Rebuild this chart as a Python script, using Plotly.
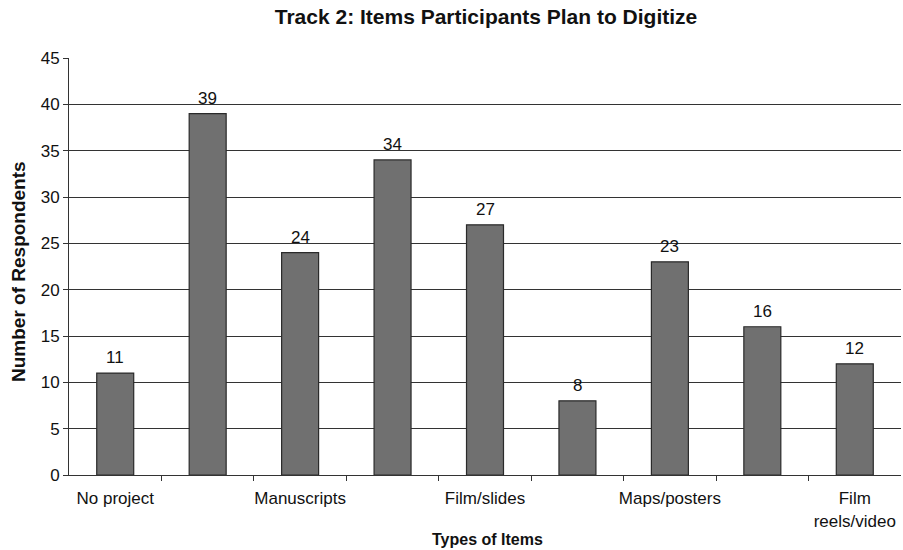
import plotly.graph_objects as go

# Data
visible_labels = ["No project", "Manuscripts", "Film/slides", "Maps/posters", "Film<br>reels/video"]
values = [11, 39, 24, 34, 27, 8, 23, 16, 12]
title_text = "Track 2: Items Participants Plan to Digitize"
x_title = "Types of Items"
y_title = "Number of Respondents"

n = len(values)
x_idx = list(range(n))
label_positions = x_idx[::2]
boundaries = [i + 0.5 for i in range(n - 1)]

FONT = "Liberation Sans, Arial, sans-serif"
W, H = 903, 550
ML, MR, MT, MB = 69, 2, 58, 75
PW = W - ML - MR
PH = H - MT - MB

fig = go.Figure(
    go.Bar(
        x=x_idx,
        y=values,
        marker=dict(color="#707070", line=dict(color="#2a2a2a", width=1.2)),
        cliponaxis=False,
    )
)

value_labels = [
    dict(
        x=xi, y=v, xref="x", yref="y",
        text=str(v),
        xanchor="center", yanchor="bottom",
        yshift=4,
        showarrow=False,
        font=dict(family=FONT, size=17, color="#111"),
    )
    for xi, v in zip(x_idx, values)
]

fig.update_layout(
    width=W,
    height=H,
    paper_bgcolor="white",
    plot_bgcolor="white",
    margin=dict(l=ML, r=MR, t=MT, b=MB),
    bargap=0.6,
    showlegend=False,
    title=dict(
        text=f"<b>{title_text}</b>",
        x=486 / W,
        xanchor="center",
        y=1 - 17 / H,
        yanchor="middle",
        font=dict(family=FONT, size=21, color="#111"),
    ),
    annotations=value_labels + [
        dict(
            text=f"<b>{x_title}</b>",
            xref="paper", yref="paper",
            x=(487 - ML) / PW, y=-(539 - (MT + PH)) / PH,
            xanchor="center", yanchor="middle",
            showarrow=False,
            font=dict(family=FONT, size=16, color="#111"),
        ),
        dict(
            text=f"<b>{y_title}</b>",
            xref="paper", yref="paper",
            x=(18 - ML) / PW, y=(MT + PH - 272) / PH,
            xanchor="center", yanchor="middle",
            textangle=-90,
            showarrow=False,
            font=dict(family=FONT, size=19, color="#111"),
        ),
    ],
)

fig.update_xaxes(
    automargin=False,
    range=[-0.5, n - 0.5],
    tickmode="array",
    tickvals=label_positions,
    ticktext=visible_labels,
    ticks="",
    tickfont=dict(family=FONT, size=17, color="#111"),
    showline=True,
    linecolor="#333",
    linewidth=1,
    showgrid=False,
    zeroline=False,
    ticklabelstandoff=8,
    minor=dict(
        tickmode="array",
        tickvals=boundaries,
        ticks="outside",
        ticklen=5,
        tickcolor="#333",
        showgrid=False,
    ),
)

fig.update_yaxes(
    automargin=False,
    range=[0, 45],
    tick0=0,
    dtick=5,
    ticks="outside",
    ticklen=5,
    tickcolor="#333",
    tickfont=dict(family=FONT, size=17, color="#111"),
    showline=True,
    linecolor="#333",
    linewidth=1,
    showgrid=True,
    gridcolor="#333",
    gridwidth=1,
    zeroline=False,
)

fig.write_html(
    "out.html",
    config={"displayModeBar": False},
    post_script="document.body.style.margin='0px';document.body.style.overflow='hidden';",
)
